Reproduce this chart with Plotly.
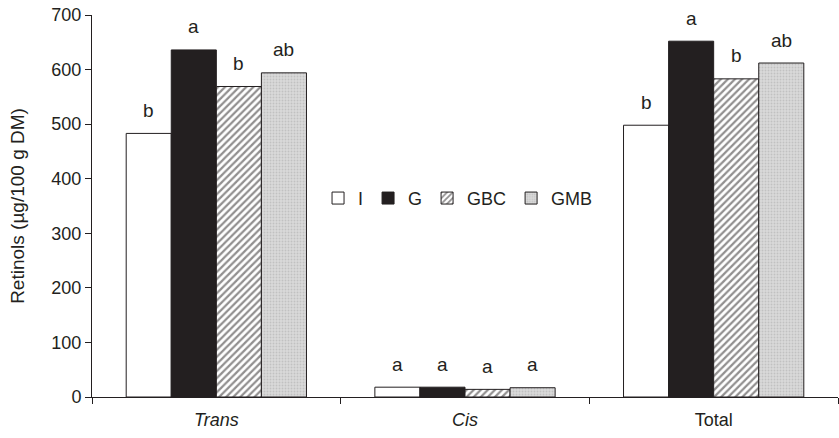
import plotly.graph_objects as go

categories = ["Trans", "Cis", "Total"]
tick_labels = ["<i>Trans</i>", "<i>Cis</i>", "Total"]
series_names = ["I", "G", "GBC", "GMB"]
values_I = [483, 18, 498]
values_G = [636, 18, 652]
values_GBC = [569, 14, 583]
values_GMB = [594, 17, 612]
letters_I = ["b", "a", "b"]
letters_G = ["a", "a", "a"]
letters_GBC = ["b", "a", "b"]
letters_GMB = ["ab", "a", "ab"]

all_values = [values_I, values_G, values_GBC, values_GMB]
all_letters = [letters_I, letters_G, letters_GBC, letters_GMB]

ink = "#231f20"
styles = [
    dict(color="white", line=dict(color=ink, width=1)),
    dict(color=ink, line=dict(color=ink, width=1)),
    dict(color="white", line=dict(color=ink, width=1),
         pattern=dict(shape="/", fgcolor=ink, bgcolor="white", size=5, solidity=0.45)),
    dict(color="#d8d8d8", line=dict(color=ink, width=1),
         pattern=dict(shape=".", fgcolor="#a8a8a8", bgcolor="#dadada", size=3, solidity=0.35)),
]

fig = go.Figure()
for name, vals, st in zip(series_names, all_values, styles):
    fig.add_trace(go.Bar(x=categories, y=vals, name=name, marker=st))

bargap = 0.275
w = (1 - bargap) / 4
for j, (vals, lets) in enumerate(zip(all_values, all_letters)):
    for i, (v, t) in enumerate(zip(vals, lets)):
        fig.add_annotation(x=i + (j - 1.5) * w, y=v, text=t, showarrow=False,
                           xref="x", yref="y", yanchor="middle", yshift=23,
                           font=dict(size=19, color=ink))

font = dict(family="Liberation Sans, Arial, sans-serif", size=18, color=ink)
fig.update_layout(
    width=839, height=438,
    margin=dict(l=92, r=1, t=15, b=41),
    plot_bgcolor="white", paper_bgcolor="white",
    font=font,
    barmode="group", bargap=bargap, bargroupgap=0,
    showlegend=True,
    legend=dict(orientation="h", x=0.303, y=0.52, xanchor="left", yanchor="middle",
                font=dict(size=18, color=ink), bgcolor="rgba(0,0,0,0)",
                itemwidth=30, traceorder="normal"),
    xaxis=dict(type="category", tickmode="array", tickvals=categories, ticktext=tick_labels,
               tickson="boundaries", ticks="outside", ticklen=6, tickcolor=ink,
               showline=True, linecolor=ink, linewidth=1, showgrid=False,
               range=[-0.5, 2.5], tickfont=dict(size=18), automargin=False,
               ticklabelstandoff=6),
    yaxis=dict(range=[0, 700], tickvals=[0, 100, 200, 300, 400, 500, 600, 700],
               ticks="outside", ticklen=6, tickcolor=ink, showline=True, linecolor=ink,
               linewidth=1, showgrid=False, zeroline=False, tickfont=dict(size=18),
               automargin=False,
               title=dict(text="Retinols (µg/100 g DM)", font=dict(size=19), standoff=21)),
)
fig.write_html("out.html", config={"displayModeBar": False},
               post_script="document.body.style.margin='0';")
